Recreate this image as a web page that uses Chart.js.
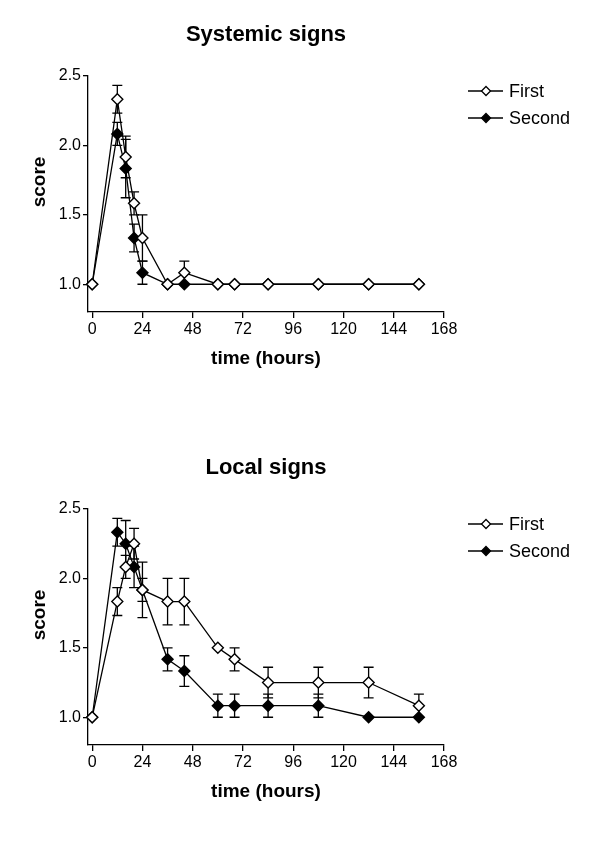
<!DOCTYPE html>
<html>
<head>
<meta charset="utf-8">
<script src="https://cdn.jsdelivr.net/npm/chart.js@4.4.0/dist/chart.umd.min.js"></script>
<style>
    html, body { margin: 0; padding: 0; background: #fff; }
    body { width: 600px; height: 849px; position: relative; overflow: hidden; }
    canvas { position: absolute; left: 0; }
    #systemicChart { top: 0; }
    #localChart { top: 433px; }
</style>
</head>
<body>
<canvas id="systemicChart" width="600" height="416"></canvas>
<canvas id="localChart" width="600" height="416"></canvas>
<script>
// Data
const hours = [0, 12, 16, 20, 24, 36, 44, 60, 68, 84, 108, 132, 156];
const xTicks = [0, 24, 48, 72, 96, 120, 144, 168];
const yTicks = [1.0, 1.5, 2.0, 2.5];
const seriesNames = ['First', 'Second'];

// Systemic signs
const sysFirst     = [1.0, 2.333, 1.917, 1.583, 1.333, 1.0, 1.083, 1.0, 1.0, 1.0, 1.0, 1.0, 1.0];
const sysFirstErr  = [0, 0.10, 0.15, 0.083, 0.167, 0, 0.083, 0, 0, 0, 0, 0, 0];
const sysSecond    = [1.0, 2.083, 1.833, 1.333, 1.083, 1.0, 1.0, 1.0, 1.0, 1.0, 1.0, 1.0, 1.0];
const sysSecondErr = [0, 0.083, 0.21, 0.10, 0.083, 0, 0, 0, 0, 0, 0, 0, 0];

// Local signs
const locFirst     = [1.0, 1.833, 2.083, 2.25, 1.917, 1.833, 1.833, 1.5, 1.417, 1.25, 1.25, 1.25, 1.083];
const locFirstErr  = [0, 0.10, 0.083, 0.11, 0.2, 0.167, 0.167, 0, 0.083, 0.11, 0.11, 0.11, 0.083];
const locSecond    = [1.0, 2.333, 2.25, 2.083, 1.917, 1.417, 1.333, 1.083, 1.083, 1.083, 1.083, 1.0, 1.0];
const locSecondErr = [0, 0.10, 0.167, 0.15, 0.083, 0.083, 0.11, 0.083, 0.083, 0.083, 0.083, 0, 0];

const FONT = '"Liberation Sans", Arial, Helvetica, sans-serif';
const fills = ['#ffffff', '#000000'];

function toPoints(values) {
    return hours.map((h, i) => ({ x: h, y: values[i] }));
}

// error bars drawn under the lines and markers
function errorBarPlugin(errors) {
    return {
        id: 'errorBars',
        beforeDatasetsDraw(chart) {
            const ctx = chart.ctx;
            const xs = chart.scales.x;
            const ys = chart.scales.y;
            ctx.save();
            ctx.strokeStyle = '#000';
            ctx.lineWidth = 1.3;
            chart.data.datasets.forEach((ds, i) => {
                ds.data.forEach((pt, j) => {
                    const e = errors[i][j];
                    if (!e) return;
                    const px = xs.getPixelForValue(pt.x);
                    const hi = ys.getPixelForValue(pt.y + e);
                    const lo = ys.getPixelForValue(pt.y - e);
                    ctx.beginPath();
                    ctx.moveTo(px, hi); ctx.lineTo(px, lo);
                    ctx.moveTo(px - 5, hi); ctx.lineTo(px + 5, hi);
                    ctx.moveTo(px - 5, lo); ctx.lineTo(px + 5, lo);
                    ctx.stroke();
                });
            });
            ctx.restore();
        }
    };
}

function diamond(ctx, x, y, r, fill) {
    ctx.beginPath();
    ctx.moveTo(x, y - r);
    ctx.lineTo(x + r, y);
    ctx.lineTo(x, y + r);
    ctx.lineTo(x - r, y);
    ctx.closePath();
    ctx.fillStyle = fill;
    ctx.fill();
    ctx.stroke();
}

// title, axis titles and legend
function decorationPlugin(title) {
    return {
        id: 'decorations',
        afterDraw(chart) {
            const ctx = chart.ctx;
            ctx.save();
            ctx.fillStyle = '#000';
            ctx.textAlign = 'center';
            ctx.textBaseline = 'middle';
            ctx.font = 'bold 22px ' + FONT;
            ctx.fillText(title, 266, 35);
            ctx.font = 'bold 19px ' + FONT;
            ctx.fillText('time (hours)', 266, 359);
            ctx.save();
            ctx.translate(40, 182);
            ctx.rotate(-Math.PI / 2);
            ctx.fillText('score', 0, 0);
            ctx.restore();

            ctx.strokeStyle = '#000';
            ctx.lineWidth = 1.3;
            ctx.textAlign = 'left';
            ctx.font = '18px ' + FONT;
            chart.data.datasets.forEach((ds, i) => {
                const ly = 91 + i * 27;
                ctx.beginPath();
                ctx.moveTo(468, ly);
                ctx.lineTo(503, ly);
                ctx.stroke();
                diamond(ctx, 486, ly, 4.5, fills[i]);
                ctx.fillStyle = '#000';
                ctx.fillText(ds.label, 509, ly + 1);
            });
            ctx.restore();
        }
    };
}

function makeChart(canvasId, title, first, second, firstErr, secondErr) {
    const datasets = [first, second].map((values, i) => ({
        label: seriesNames[i],
        data: toPoints(values),
        borderColor: '#000',
        borderWidth: 1.3,
        tension: 0,
        pointStyle: 'rectRot',
        pointRadius: 5.5,
        pointBorderWidth: 1.4,
        pointBorderColor: '#000',
        pointBackgroundColor: fills[i],
        clip: false
    }));

    return new Chart(document.getElementById(canvasId), {
        type: 'line',
        data: { datasets: datasets },
        options: {
            responsive: false,
            animation: false,
            events: [],
            layout: { padding: { left: 0, top: 76, right: 156, bottom: 0 } },
            plugins: {
                legend: { display: false },
                title: { display: false },
                tooltip: { enabled: false }
            },
            scales: {
                x: {
                    type: 'linear',
                    min: -2,
                    max: 168,
                    afterBuildTicks: (scale) => { scale.ticks = xTicks.map(v => ({ value: v })); },
                    afterFit: (scale) => { scale.height = 104; },
                    grid: { drawOnChartArea: false, drawTicks: true, tickLength: 6, color: '#000', lineWidth: 1.3 },
                    border: { display: true, color: '#000', width: 1.3 },
                    ticks: {
                        color: '#000',
                        padding: 2,
                        maxRotation: 0,
                        font: { family: FONT, size: 16 },
                        callback: (v) => v
                    }
                },
                y: {
                    type: 'linear',
                    min: 0.8,
                    max: 2.5,
                    afterBuildTicks: (scale) => { scale.ticks = yTicks.map(v => ({ value: v })); },
                    afterFit: (scale) => { scale.width = 88; },
                    grid: { drawOnChartArea: false, drawTicks: true, tickLength: 5, color: '#000', lineWidth: 1.3 },
                    border: { display: true, color: '#000', width: 1.3 },
                    ticks: {
                        color: '#000',
                        padding: 2,
                        font: { family: FONT, size: 16 },
                        callback: (v) => Number(v).toFixed(1)
                    }
                }
            }
        },
        plugins: [errorBarPlugin([firstErr, secondErr]), decorationPlugin(title)]
    });
}

makeChart('systemicChart', 'Systemic signs', sysFirst, sysSecond, sysFirstErr, sysSecondErr);
makeChart('localChart', 'Local signs', locFirst, locSecond, locFirstErr, locSecondErr);
</script>
</body>
</html>
